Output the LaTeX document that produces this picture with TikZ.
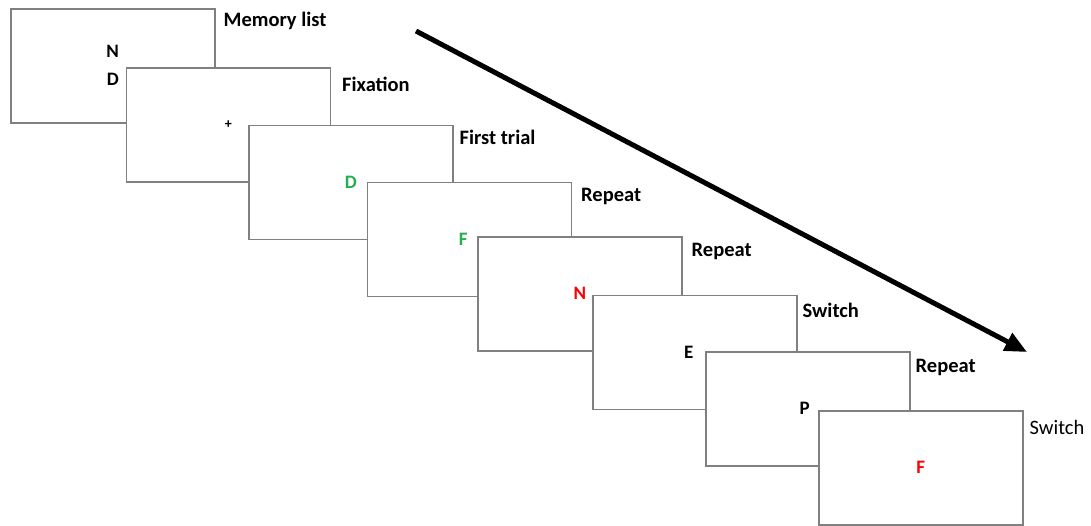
\documentclass[tikz,border=0pt]{standalone}
\usepackage{fontspec}
\setmainfont{Carlito}
\usepackage{tikz}
\usetikzlibrary{arrows.meta, positioning}
\definecolor{frame}{HTML}{808080}
\definecolor{okgreen}{HTML}{22B050}
\tikzset{screen/.style={draw=frame, line width=1.5pt, fill=white, anchor=north west,
    minimum width=204pt, minimum height=114pt, inner sep=0pt}}
\tikzset{tag/.style={anchor=west, inner sep=0pt, font=\fontsize{20.5}{22}\selectfont\bfseries}}
\tikzset{cue/.style={inner sep=0pt, font=\fontsize{19}{21}\selectfont\bfseries}}

\begin{document}
\begin{tikzpicture}[x=1pt, y=-1pt]
  \useasboundingbox (0,0) rectangle (1091,525);
  % screens, front one last
  \node(s1) [screen] at (10,8) {};
  \node(s2) [screen] at (125.5,67) {};
  \node(s3) [screen] at (248,124.5) {};
  \node(s4) [screen] at (366.5,181.5) {};
  \node(s5) [screen] at (477,236) {};
  \node(s6) [screen] at (592,294.5) {};
  \node(s7) [screen] at (705,351) {};
  \node(s8) [screen] at (818,410) {};
  % what each screen shows
  \node(n1) [cue] at ([yshift=14pt]s1.center) {N};
  \node(d1) [cue] at ([yshift=-14pt]s1.center) {D};
  \node(fix) [cue, font=\fontsize{14}{15}\selectfont\bfseries] at (s2.center) {+};
  \node(c3) [cue, color=okgreen] at (s3.center) {D};
  \node(c4) [cue, color=okgreen] at ([xshift=-6pt]s4.center) {F};
  \node(c5) [cue, color=red] at (s5.center) {N};
  \node(c6) [cue] at ([xshift=-6pt]s6.center) {E};
  \node(c7) [cue] at ([xshift=-3pt]s7.center) {P};
  \node(c8) [cue, color=red] at (s8.center) {F};
  % names of the screens
  \node(t1) [tag] at ([xshift=8pt,yshift=-13pt]s1.north east) {Memory list};
  \node(t2) [tag] at ([xshift=11pt,yshift=-17pt]s2.north east) {Fixation};
  \node(t3) [tag] at ([xshift=6pt,yshift=-13pt]s3.north east) {First trial};
  \node(t4) [tag] at ([xshift=9pt,yshift=-15pt]s4.north east) {Repeat};
  \node(t5) [tag] at ([xshift=9pt,yshift=-15pt]s5.north east) {Repeat};
  \node(t6) [tag] at ([xshift=5pt,yshift=-16pt]s6.north east) {Switch};
  \node(t7) [tag] at ([xshift=5pt,yshift=-16pt]s7.north east) {Repeat};
  \node(t8) [tag, font=\fontsize{20.5}{22}\selectfont] at ([xshift=6pt,yshift=-17pt]s8.north east) {Switch};
  % time runs down the stack
  \coordinate(a0) at (416,31);
  \coordinate(a1) at (1027,352);
  \draw[line width=5pt, -{Triangle[length=22pt,width=19pt]}] (a0) -- (a1);
\end{tikzpicture}
\end{document}
